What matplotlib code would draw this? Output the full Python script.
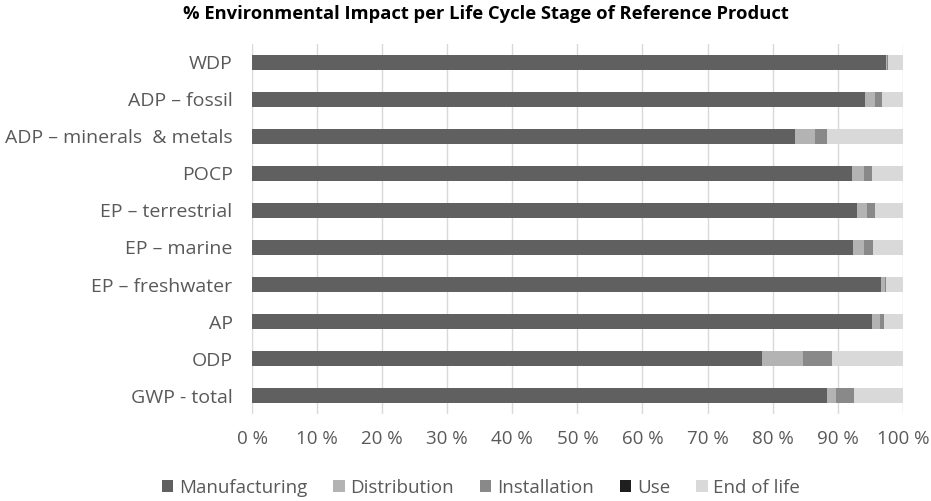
import numpy as np
import matplotlib
matplotlib.use('Agg')
import matplotlib.pyplot as plt
from matplotlib.ticker import FuncFormatter

plt.rcParams['font.family'] = ['Open Sans', 'DejaVu Sans']

categories = ['WDP', 'ADP – fossil', 'ADP – minerals  & metals', 'POCP', 'EP – terrestrial',
              'EP – marine', 'EP – freshwater', 'AP', 'ODP', 'GWP - total']
manufacturing = [97.4, 94.2, 83.4, 92.2, 92.9, 92.3, 96.6, 95.3, 78.4, 88.3]
distribution = [0.2, 1.5, 3.1, 1.8, 1.6, 1.8, 0.6, 1.2, 6.2, 1.5]
installation = [0.2, 1.1, 1.9, 1.3, 1.3, 1.3, 0.2, 0.6, 4.5, 2.7]
use = [0, 0, 0, 0, 0, 0, 0, 0, 0, 0]
end_of_life = [100 - m - d - i - u for m, d, i, u in zip(manufacturing, distribution, installation, use)]

stages = ['Manufacturing', 'Distribution', 'Installation', 'Use', 'End of life']
colors = ['#606060', '#b3b3b3', '#898989', '#1f1f1f', '#d9d9d9']
series = [manufacturing, distribution, installation, use, end_of_life]

fig = plt.figure(figsize=(9.31, 5.01), dpi=100)
ax = fig.add_axes([0.2707, 0.173, 0.699, 0.74])

y = np.arange(len(categories))
left = np.zeros(len(categories))
for name, vals, c in zip(stages, series, colors):
    vals = np.array(vals)
    ax.barh(y, vals, left=left, height=0.4, color=c, label=name, zorder=3)
    left += vals

ax.set_ylim(len(categories) - 0.5, -0.5)
ax.set_xlim(0, 100)
ax.set_xticks(np.arange(0, 101, 10))
ax.xaxis.set_major_formatter(FuncFormatter(lambda v, p: '%d %%' % v))
ax.set_yticks(y)
ax.set_yticklabels(categories)
ax.tick_params(axis='both', length=0, colors='#595959', labelsize=13.5)
ax.tick_params(axis='y', labelsize=14, pad=14)
ax.tick_params(axis='x', pad=11)
ax.grid(axis='x', color='#d9d9d9', linewidth=1, zorder=0)
for s in ax.spines.values():
    s.set_visible(False)

fig.suptitle('% Environmental Impact per Life Cycle Stage of Reference Product',
             x=0.522, y=0.99, fontsize=13.2, fontweight='bold', color='#000000')

leg = fig.legend(loc='lower center', bbox_to_anchor=(0.5166, -0.025), ncol=5, frameon=False,
                 fontsize=13.5, handlelength=0.6, handleheight=0.65, handletextpad=0.3,
                 columnspacing=1.4)
for t in leg.get_texts():
    t.set_color('#595959')

fig.savefig('out.png', dpi=100)
